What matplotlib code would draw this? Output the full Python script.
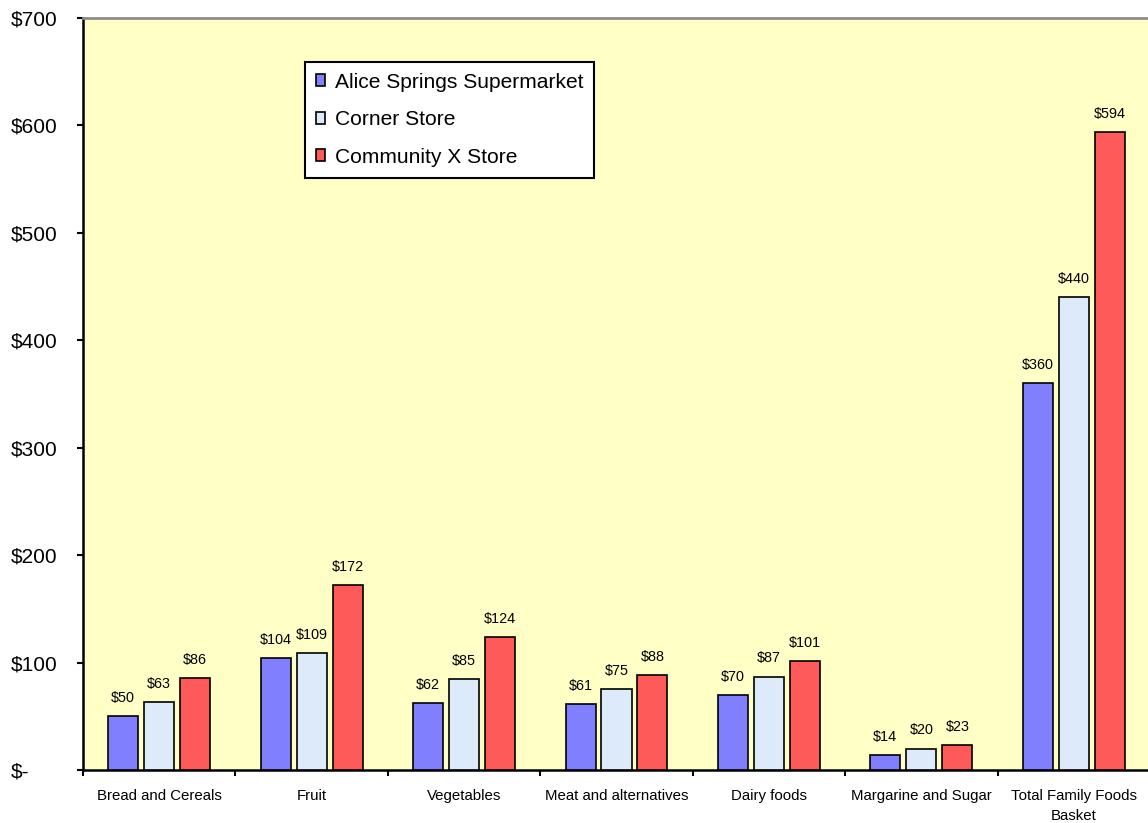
import matplotlib
matplotlib.use("Agg")
import matplotlib.pyplot as plt
from matplotlib.patches import Patch
import numpy as np

categories = ["Bread and Cereals", "Fruit", "Vegetables", "Meat and alternatives",
              "Dairy foods", "Margarine and Sugar", "Total Family Foods\nBasket"]
series_names = ["Alice Springs Supermarket", "Corner Store", "Community X Store"]
alice_springs = [50, 104, 62, 61, 70, 14, 360]
corner_store = [63, 109, 85, 75, 87, 20, 440]
community_x = [86, 172, 124, 88, 101, 23, 594]
y_ticks = [0, 100, 200, 300, 400, 500, 600, 700]
y_tick_labels = ["$-", "$100", "$200", "$300", "$400", "$500", "$600", "$700"]

colors = ["#8080FF", "#DDEAFA", "#FF5A5A"]

plt.rcParams["font.family"] = ["Liberation Sans", "DejaVu Sans"]

fig = plt.figure(figsize=(11.48, 8.23), dpi=100)
fig.patch.set_facecolor("white")
ax = fig.add_axes([83 / 1148, 53 / 823, 1067 / 1148, 752 / 823])
ax.set_facecolor("#FFFFC6")

x = np.arange(len(categories)) + 0.5
width = 0.197
step = 0.236
for i, (vals, name, col) in enumerate(zip([alice_springs, corner_store, community_x],
                                          series_names, colors)):
    pos = x + (i - 1) * step
    ax.bar(pos, vals, width=width, color=col, edgecolor="black", linewidth=1.2,
           label=name, zorder=3)
    for px, v in zip(pos, vals):
        ax.annotate(f"${v}", (px, v), xytext=(0, 8), textcoords="offset points",
                    ha="center", va="bottom", fontsize=10.4, color="black")

ax.set_xlim(0, len(categories))
ax.set_ylim(0, 700)

# y axis
ax.set_yticks(y_ticks)
ax.set_yticklabels(y_tick_labels, fontsize=15)
ax.tick_params(axis="y", direction="out", length=4, width=1.5, pad=48)
for lbl in ax.get_yticklabels():
    lbl.set_horizontalalignment("left")

# x axis: category labels at centres, tick marks at group boundaries
ax.set_xticks(x)
ax.set_xticklabels(categories, fontsize=10.8, linespacing=1.5)
ax.tick_params(axis="x", which="major", length=0, pad=14)
ax.set_xticks(np.arange(len(categories) + 1), minor=True)
ax.tick_params(axis="x", which="minor", direction="out", length=4.5, width=1.5)

for side in ("left", "bottom"):
    ax.spines[side].set_color("black")
    ax.spines[side].set_linewidth(1.8)
ax.spines["top"].set_color("#8C8C8C")
ax.spines["top"].set_linewidth(2)
ax.spines["right"].set_visible(False)

handles = [Patch(facecolor=c, edgecolor="black", linewidth=1.2) for c in colors]
leg = ax.legend(handles, series_names, loc="upper left",
                bbox_to_anchor=(222 / 1067, (770 - 62) / 752), borderaxespad=0,
                fontsize=15.1, frameon=True, fancybox=False, framealpha=1,
                edgecolor="black", handlelength=0.45, handleheight=0.5,
                handletextpad=0.45, labelspacing=0.88, borderpad=0.52)
leg.get_frame().set_linewidth(1.5)
leg.set_zorder(5)

fig.savefig("out.png", dpi=100, facecolor="white")
